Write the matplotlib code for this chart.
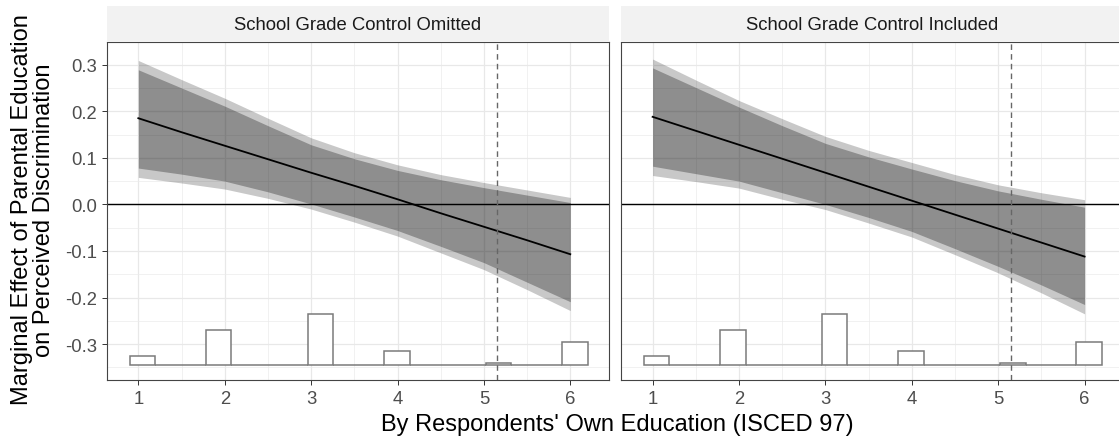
import numpy as np
import matplotlib
matplotlib.use("Agg")
import matplotlib.pyplot as plt
from matplotlib.patches import Rectangle

plt.rcParams["font.family"] = ["Liberation Sans", "DejaVu Sans"]
plt.rcParams["axes.unicode_minus"] = False

# moderator grid where the effect and its bands were evaluated
x_grid = [1.0, 1.5, 2.0, 2.5, 3.0, 3.5, 4.0, 4.5, 5.0, 5.5, 6.0]

# panel 1: school grade control omitted
omit_effect = [0.185, 0.155, 0.126, 0.097, 0.068, 0.040, 0.011, -0.019, -0.048, -0.077, -0.107]
omit_ci_lo = [0.078, 0.065, 0.050, 0.027, 0.001, -0.027, -0.056, -0.090, -0.125, -0.167, -0.209]
omit_ci_hi = [0.289, 0.250, 0.211, 0.169, 0.128, 0.098, 0.073, 0.053, 0.036, 0.020, 0.004]
omit_uni_lo = [0.058, 0.046, 0.033, 0.013, -0.010, -0.038, -0.068, -0.104, -0.140, -0.183, -0.228]
omit_uni_hi = [0.309, 0.268, 0.228, 0.185, 0.143, 0.111, 0.085, 0.064, 0.047, 0.031, 0.015]

# panel 2: school grade control included
incl_effect = [0.188, 0.158, 0.128, 0.098, 0.068, 0.038, 0.008, -0.022, -0.052, -0.082, -0.112]
incl_ci_lo = [0.082, 0.066, 0.050, 0.025, 0.000, -0.028, -0.058, -0.095, -0.133, -0.173, -0.215]
incl_ci_hi = [0.293, 0.251, 0.209, 0.169, 0.131, 0.102, 0.076, 0.051, 0.029, 0.011, -0.006]
incl_uni_lo = [0.062, 0.049, 0.035, 0.011, -0.011, -0.040, -0.070, -0.108, -0.147, -0.190, -0.235]
incl_uni_hi = [0.312, 0.267, 0.223, 0.184, 0.146, 0.116, 0.090, 0.064, 0.042, 0.025, 0.010]

# distribution of respondents' education (histogram along the bottom)
hist_edges = np.linspace(0.9, 6.2, 19)
hist_counts = [93, 0, 0, 373, 0, 0, 0, 548, 0, 0, 146, 0, 0, 0, 24, 0, 0, 243]

median_x = 5.15

panel_titles = ["School Grade Control Omitted", "School Grade Control Included"]
y_ticks = [-0.3, -0.2, -0.1, 0.0, 0.1, 0.2, 0.3]
x_ticks = [1, 2, 3, 4, 5, 6]

W, H = 1119, 439
fig = plt.figure(figsize=(W / 100, H / 100), dpi=100, facecolor="white")

panels = [
    (omit_effect, omit_ci_lo, omit_ci_hi, omit_uni_lo, omit_uni_hi),
    (incl_effect, incl_ci_lo, incl_ci_hi, incl_uni_lo, incl_uni_hi),
]
left_px = [106.7, 621.0]
panel_w = 502.3
top_px, bot_px = 43.3, 381.0
strip_top = 6.7

for i, (eff, lo, hi, ulo, uhi) in enumerate(panels):
    ax = fig.add_axes([left_px[i] / W, 1 - bot_px / H, panel_w / W, (bot_px - top_px) / H])
    ax.set_xlim(0.634, 6.448)
    ax.set_ylim(-0.377, 0.348)

    ax.set_xticks(x_ticks)
    ax.set_xticks(np.arange(1.5, 6.5, 1.0), minor=True)
    ax.set_yticks(y_ticks)
    ax.set_yticks(np.arange(-0.35, 0.35, 0.1), minor=True)
    ax.grid(which="major", color="#e8e8e8", linewidth=0.9)
    ax.grid(which="minor", color="#ebebeb", linewidth=0.5)
    ax.set_axisbelow(True)
    ax.tick_params(which="minor", length=0)
    ax.tick_params(which="major", length=3.5, width=0.7, color="#333333",
                   labelcolor="#4d4d4d", labelsize=13.3, pad=3.5)
    for sp in ax.spines.values():
        sp.set_color("#444444")
        sp.set_linewidth(0.8)

    if i == 0:
        ax.set_yticklabels([f"{v:.1f}" for v in y_ticks])
    else:
        ax.tick_params(axis="y", left=False, labelleft=False)

    # uniform band, pointwise band, point estimate
    ax.fill_between(x_grid, ulo, uhi, color="black", alpha=0.215, linewidth=0)
    ax.fill_between(x_grid, lo, hi, color="black", alpha=0.29, linewidth=0)
    ax.axhline(0, color="black", linewidth=1.0)
    ax.plot(x_grid, eff, color="black", linewidth=1.3)

    # histogram of the moderator
    base = -0.345
    counts = np.array(hist_counts, dtype=float)
    heights = counts / counts.max() * 0.11
    ax.bar(hist_edges[:-1], heights, width=np.diff(hist_edges), bottom=base, align="edge",
           facecolor="white", edgecolor="#7a7a7a", linewidth=1.1, zorder=3)

    ax.axvline(median_x, color="#666666", linewidth=1.0, linestyle=(0, (4, 3)), zorder=4)

    # facet strip
    fig.patches.append(Rectangle((left_px[i] / W, 1 - top_px / H), panel_w / W,
                                 (top_px - strip_top) / H, transform=fig.transFigure,
                                 facecolor="#f2f2f2", edgecolor="none"))
    fig.text((left_px[i] + panel_w / 2) / W, 1 - (top_px + strip_top) / 2 / H, panel_titles[i],
             ha="center", va="center", fontsize=13.3, color="#1a1a1a")

fig.text(617 / W, 1 - 431 / H, "By Respondents' Own Education (ISCED 97)",
         ha="center", va="baseline", fontsize=17, color="black")
fig.text(33 / W, 1 - 210 / H, "Marginal Effect of Parental Education\non Perceived Discrimination",
         ha="center", va="center", rotation=90, fontsize=17, linespacing=1.0,
         multialignment="center", color="black")

fig.savefig("out.png", dpi=100, facecolor="white")
